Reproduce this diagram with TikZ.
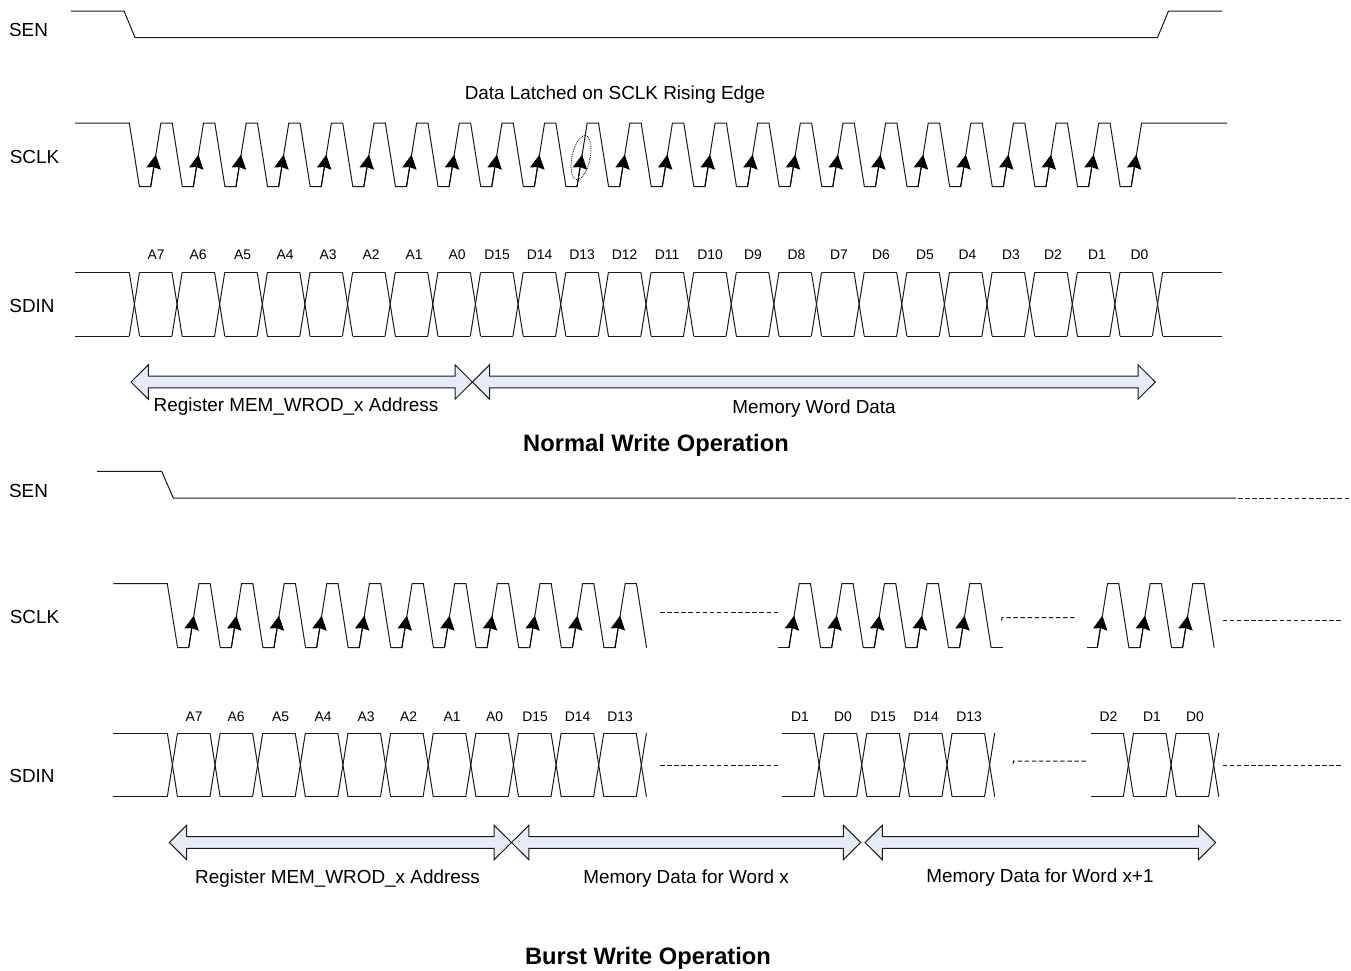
\documentclass[tikz,border=0pt]{standalone}
\usepackage{fontspec}
\setmainfont{Liberation Sans}
\usetikzlibrary{arrows.meta,shapes.geometric}
\definecolor{fatfill}{HTML}{E6ECF7}
\definecolor{wirecol}{HTML}{1A1A1A}
\newcommand\per{42.63}
\tikzset{
  wave/.style={draw=wirecol,line width=1pt,line join=miter},
  clkarr/.style={draw=black,line width=1pt,-{Stealth[length=14pt,width=14.5pt,inset=1.5pt]}},
  dashwire/.style={draw=wirecol,line width=1pt,dash pattern=on 4.5pt off 2.6pt},
  fatarrow/.style={draw=wirecol,line width=1pt,fill=fatfill,line join=miter},
  sig/.style={anchor=base,inner sep=0pt,font=\fontsize{18.9}{20}\selectfont},
  bit/.style={anchor=base,inner sep=0pt,font=\fontsize{13.9}{15}\selectfont},
  captext/.style={anchor=base,inner sep=0pt,font=\fontsize{18.9}{20}\selectfont},
  ttl/.style={anchor=base,inner sep=0pt,font=\fontsize{23.7}{25}\selectfont\bfseries},
}
% rising start x, number of pulses, top, bottom: pulses with flat bottoms between them
\newcommand\clkwave[4]{%
  \draw[wave] (#1,#4) -- (#1+10.2,#3) -- (#1+21.5,#3) -- (#1+31.6,#4)
    \foreach \k in {2,...,#2}{ -- ({#1+(\k-1)*\per},#4) -- ({#1+(\k-1)*\per+10.2},#3)
      -- ({#1+(\k-1)*\per+21.5},#3) -- ({#1+(\k-1)*\per+31.6},#4)};
  \clkarrows{#1}{#2}{#4}}
% same, without the last falling edge
\newcommand\clkarrows[3]{%
  \foreach \k in {1,...,#2}{
    \draw[clkarr] ({#1+(\k-1)*\per},#3) -- ({#1+(\k-1)*\per+5.1},#3-32);}}
% first crossing x, crossings, top, bottom
\newcommand\buswave[4]{%
  \foreach \k in {1,...,#2}{
    \draw[wave] ({#1+(\k-1)*\per},#3) -- ({#1+(\k-1)*\per+10.2},#4);
    \draw[wave] ({#1+(\k-1)*\per},#4) -- ({#1+(\k-1)*\per+10.2},#3);
  }
  \pgfmathtruncatemacro\nn{#2-1}
  \ifnum\nn>0
  \foreach \k in {1,...,\nn}{
    \draw[wave] ({#1+(\k-1)*\per+10.2},#3) -- ({#1+\k*\per},#3);
    \draw[wave] ({#1+(\k-1)*\per+10.2},#4) -- ({#1+\k*\per},#4);
  }
  \fi}
% left tip, right tip, centre y
\newcommand\fat[3]{%
  \draw[fatarrow] (#1,#3) -- (#1+17.3,#3-17.2) -- (#1+17.3,#3-5.8) -- (#2-17.3,#3-5.8)
    -- (#2-17.3,#3-17.2) -- (#2,#3) -- (#2-17.3,#3+17.2) -- (#2-17.3,#3+5.8)
    -- (#1+17.3,#3+5.8) -- (#1+17.3,#3+17.2) -- cycle;}
\begin{document}
\begin{tikzpicture}[x=1pt,y=-1pt]
\useasboundingbox (0,0) rectangle (1351,970);

%% ---------- Normal write ----------
\node[sig] (senA) at (28.5,36) {SEN};
\node[sig] (sclkA) at (34.5,163) {SCLK};
\node[sig] (sdinA) at (32,312) {SDIN};
\node[captext] (latch) at (615,99.5) {Data Latched on SCLK Rising Edge};

\draw[wave] (71,11) -- (124,11) -- (135,37.5) -- (1157.5,37.5) -- (1168.5,11) -- (1222,11);

% SCLK
\draw[wave] (75,123) -- (129.3,123) -- (139.4,186.7) -- (150.7,186.7);
\clkwave{150.7}{23}{123}{186.7}
\draw[wave] ({150.7+22*\per+31.6},186.7) -- (1131.2,186.7) -- (1141.6,123) -- (1227,123);
\clkarrows{1131.2}{1}{186.7}

% SDIN
\draw[wave] (75,272.3) -- (129.3,272.3);
\draw[wave] (75,336) -- (129.3,336);
\buswave{129.3}{25}{272.3}{336}
\draw[wave] (1162.8,272.3) -- (1222,272.3);
\draw[wave] (1162.8,336) -- (1222,336);

\foreach \lab/\xx in {A7/156,A6/198,A5/242.5,A4/285,A3/328,A2/371,A1/414,A0/457,
  D15/497,D14/539.5,D13/582,D12/624.5,D11/667,D10/710,D9/753,D8/796.5,
  D7/839,D6/881,D5/925,D4/967.5,D3/1011,D2/1053,D1/1097,D0/1139.5}
  \node[bit] (na\lab) at (\xx,259.5) {\lab};

\node[draw=black,densely dotted,line width=0.8pt,ellipse,minimum width=18pt,minimum height=45pt,
  inner sep=0pt,rotate=-12] (latchmark) at (581,157.6) {};

\fat{131}{472.3}{382}
\fat{472.3}{1155.3}{382}

\node[captext] (regA) at (296,411) {Register MEM\_WROD\_x Address};
\node[captext] (memA) at (814,413) {Memory Word Data};
\node[ttl] (titleA) at (656,451) {Normal Write Operation};

%% ---------- Burst write ----------
\node[sig] (senB) at (28.5,497) {SEN};
\node[sig] (sclkB) at (34.5,623) {SCLK};
\node[sig] (sdinB) at (32,782) {SDIN};

\draw[wave] (97,471.3) -- (161.7,471.3) -- (173.3,498) -- (1236,498);
\draw[dashwire] (1238,498) -- (1351,498);

% SCLK
\draw[wave] (113.3,583.7) -- (167.3,583.7) -- (177.6,647.7) -- (188.7,647.7);
\clkwave{188.7}{11}{583.7}{647.7}
\draw[dashwire] (660,612.3) -- (778.7,612.3);
\draw[wave] (778.3,647.7) -- (789,647.7);
\clkwave{789}{5}{583.7}{647.7}
\draw[wave] ({789+4*\per+31.6},647.7) -- (1002.7,647.7);
\draw[dashwire] (1001.5,620.5) -- (1002,617.7) -- (1075,617.7);
\draw[wave] (1086.7,647.7) -- (1097.3,647.7);
\clkwave{1097.3}{3}{583.7}{647.7}
\draw[dashwire] (1222.7,620.7) -- (1343,620.7);

% SDIN
\draw[wave] (113.3,733) -- (167.3,733);
\draw[wave] (113.3,796.7) -- (167.3,796.7);
\buswave{167.3}{12}{733}{796.7}
\draw[dashwire] (660,765.7) -- (779,765.7);
\draw[wave] (781.7,733) -- (814,733);
\draw[wave] (781.7,796.7) -- (814,796.7);
\buswave{814}{5}{733}{796.7}
\draw[dashwire] (1013,764) -- (1013.5,761) -- (1086.7,761);
\draw[wave] (1091,733) -- (1123.3,733);
\draw[wave] (1091,796.7) -- (1123.3,796.7);
\buswave{1123.3}{3}{733}{796.7}
\draw[dashwire] (1222.7,765.7) -- (1343,765.7);

\foreach \lab/\xx in {A7/194,A6/236,A5/280.5,A4/323,A3/366,A2/408.5,A1/452,A0/494.5,
  D15/535,D14/577.5,D13/620}
  \node[bit] (nb\lab) at (\xx,721.7) {\lab};
\foreach \lab/\xx in {D1/800,D0/843,D15/883,D14/926,D13/969}
  \node[bit] (nc\lab) at (\xx,721.7) {\lab};
\foreach \lab/\xx in {D2/1108.5,D1/1152,D0/1195}
  \node[bit] (nd\lab) at (\xx,721.7) {\lab};

\fat{169.3}{511.5}{842.5}
\fat{511.5}{860.7}{842.5}
\fat{865}{1215.7}{842.5}

\node[captext] (regB) at (337.5,883) {Register MEM\_WROD\_x Address};
\node[captext] (memB) at (686,883) {Memory Data for Word x};
\node[captext] (memC) at (1040,882) {Memory Data for Word x+1};
\node[ttl] (titleB) at (648,964) {Burst Write Operation};
\end{tikzpicture}
\end{document}
